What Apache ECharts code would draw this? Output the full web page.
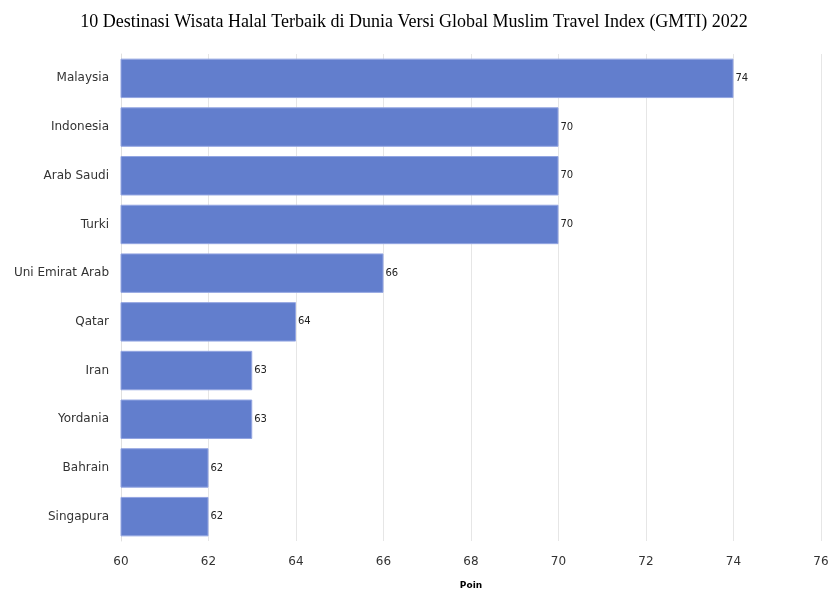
<!DOCTYPE html>
<html lang="id">
<head>
  <meta charset="UTF-8">
  <title>GMTI 2022</title>
  <script src="https://cdn.jsdelivr.net/npm/echarts@6/dist/echarts.min.js"></script>
  <style>
    html, body { margin: 0; padding: 0; background: #fff; }
    #chart { width: 828px; height: 590px; }
  </style>
</head>
<body>
  <div id="chart"></div>
  <script>
    // data, top to bottom as shown
    const countries = ['Malaysia', 'Indonesia', 'Arab Saudi', 'Turki', 'Uni Emirat Arab',
      'Qatar', 'Iran', 'Yordania', 'Bahrain', 'Singapura'];
    const points = [74, 70, 70, 70, 66, 64, 63, 63, 62, 62];

    const chart = echarts.init(document.getElementById('chart'));
    chart.setOption({
      animation: false,
      title: {
        text: '10 Destinasi Wisata Halal Terbaik di Dunia Versi Global Muslim Travel Index (GMTI) 2022',
        left: 'center',
        top: 8,
        textStyle: {
          fontFamily: 'Liberation Serif',
          fontSize: 18,
          fontWeight: 'normal',
          color: '#000'
        }
      },
      grid: { left: 121, right: 7, top: 54, bottom: 49, outerBoundsMode: 'none' },
      xAxis: {
        type: 'value',
        min: 60,
        max: 76,
        interval: 2,
        name: 'Poin',
        nameLocation: 'middle',
        nameGap: 40,
        nameTextStyle: { fontFamily: 'DejaVu Sans', fontSize: 9, fontWeight: 'bold', color: '#000' },
        axisLine: { show: false },
        axisTick: { show: false },
        axisLabel: { fontFamily: 'DejaVu Sans', fontSize: 12, color: '#333', margin: 15 },
        splitLine: { lineStyle: { color: '#e6e6e6' } }
      },
      yAxis: {
        type: 'category',
        data: countries,
        inverse: true,
        axisLine: { lineStyle: { color: '#e0e0e0' } },
        axisTick: { length: 6, lineStyle: { color: '#d8d8d8' }, alignWithLabel: true },
        axisLabel: { fontFamily: 'DejaVu Sans', fontSize: 12, color: '#333', margin: 12 }
      },
      series: [{
        type: 'bar',
        data: points,
        barCategoryGap: '19%',
        itemStyle: { color: '#627ecd', borderColor: '#94a6e2', borderWidth: 1 },
        label: {
          show: true,
          position: 'right',
          distance: 2,
          fontFamily: 'DejaVu Sans',
          fontSize: 10,
          color: '#222'
        }
      }]
    });
  </script>
</body>
</html>
